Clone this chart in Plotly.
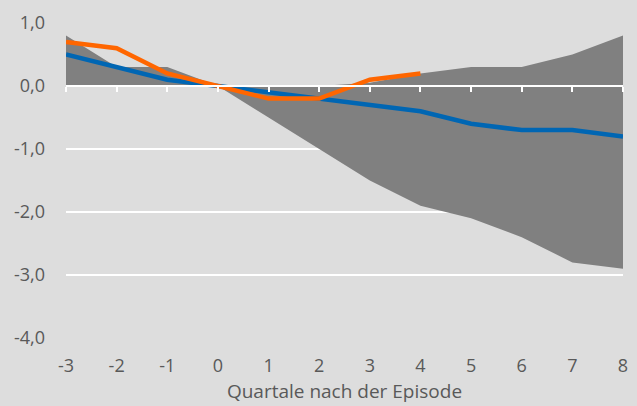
import plotly.graph_objects as go

quarters = [-3, -2, -1, 0, 1, 2, 3, 4, 5, 6, 7, 8]
band_upper = [0.8, 0.3, 0.3, 0.0, 0.0, 0.0, 0.05, 0.2, 0.3, 0.3, 0.5, 0.8]
band_lower = [0.0, 0.0, 0.0, 0.0, -0.5, -1.0, -1.5, -1.9, -2.1, -2.4, -2.8, -2.9]
blue_series = [0.5, 0.3, 0.1, 0.0, -0.1, -0.2, -0.3, -0.4, -0.6, -0.7, -0.7, -0.8]
orange_quarters = [-3, -2, -1, 0, 1, 2, 3, 4]
orange_series = [0.7, 0.6, 0.2, 0.0, -0.2, -0.2, 0.1, 0.2]
x_tick_labels = ["-3", "-2", "-1", "0", "1", "2", "3", "4", "5", "6", "7", "8"]
y_ticks = [1, 0, -1, -2, -3, -4]
y_tick_labels = ["1,0", "0,0", "-1,0", "-2,0", "-3,0", "-4,0"]

fig = go.Figure()
fig.add_trace(go.Scatter(x=quarters, y=band_lower, mode="lines", line=dict(width=0, color="#808080"),
                         showlegend=False, hoverinfo="skip"))
fig.add_trace(go.Scatter(x=quarters, y=band_upper, mode="lines", line=dict(width=0, color="#808080"),
                         fill="tonexty", fillcolor="#808080", showlegend=False, hoverinfo="skip"))
fig.add_trace(go.Scatter(x=quarters, y=blue_series, mode="lines", line=dict(width=4.5, color="#0066b3"),
                         showlegend=False))
fig.add_trace(go.Scatter(x=orange_quarters, y=orange_series, mode="lines", line=dict(width=4.5, color="#ff6600"),
                         showlegend=False))
# invisible trace to activate the overlay axis carrying tick marks at y=0
fig.add_trace(go.Scatter(x=quarters, y=[None]*len(quarters), xaxis="x2", yaxis="y", showlegend=False,
                         hoverinfo="skip"))

font_family = "Open Sans, Noto Sans, sans-serif"
fig.update_layout(
    width=637, height=406,
    margin=dict(l=66, r=14, t=23, b=68, autoexpand=False),
    paper_bgcolor="#dddddd", plot_bgcolor="#dddddd",
    font=dict(family=font_family, size=18, color="#595959"),
    xaxis=dict(range=[-3, 8], tickvals=quarters, ticktext=x_tick_labels, showgrid=False, zeroline=False,
               showline=False, ticks="", automargin=False, ticklabelstandoff=15,
               tickfont=dict(size=18, color="#595959"),
               title=dict(text="Quartale nach der Episode", font=dict(size=19, color="#595959"), standoff=8)),
    xaxis2=dict(range=[-3, 8], overlaying="x", anchor="free", position=0.8, tickvals=quarters,
                showticklabels=False, ticks="outside", ticklen=5, tickwidth=2, tickcolor="#ffffff",
                showline=True, linecolor="#ffffff", linewidth=2, showgrid=False, zeroline=False),
    yaxis=dict(range=[-4, 1], tickvals=y_ticks, ticktext=y_tick_labels, showgrid=True, gridcolor="#ffffff",
               gridwidth=2, zeroline=False, showline=False, ticklabelstandoff=20, automargin=False,
               tickfont=dict(size=18, color="#595959")),
)

fig.write_html("out.html", config={"displayModeBar": False},
               post_script="document.body.style.margin='0px';")
